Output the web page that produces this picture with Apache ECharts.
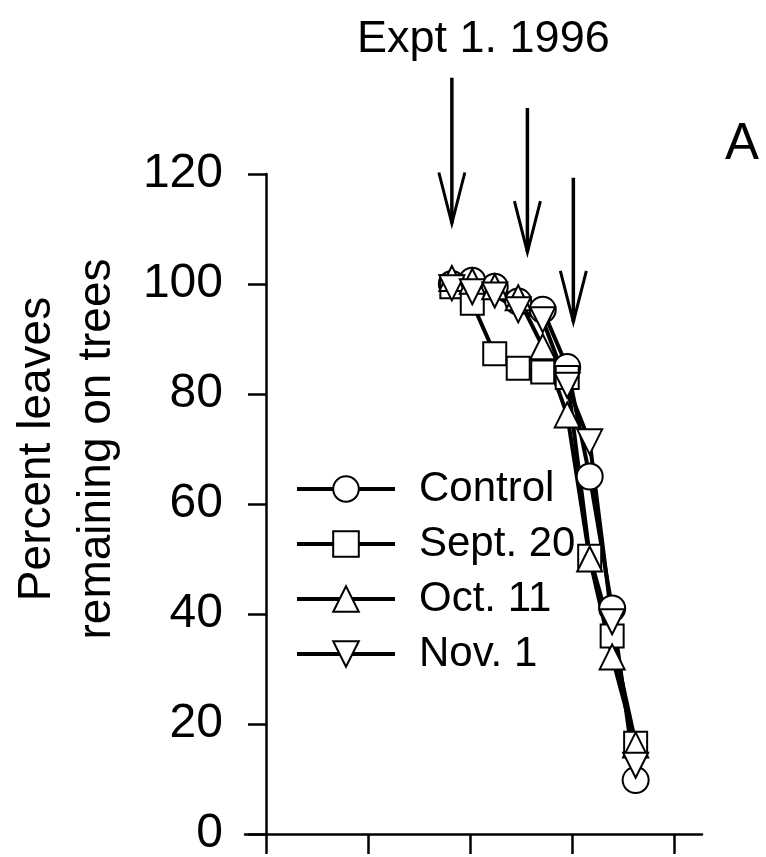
<!DOCTYPE html>
<html>
<head>
<meta charset="utf-8">
<script src="https://cdn.jsdelivr.net/npm/echarts@6/dist/echarts.min.js"></script>
<style>
  html, body { margin: 0; padding: 0; background: #fff; }
  #chart { width: 766px; height: 857px; }
</style>
</head>
<body>
<div id="chart"></div>
<script>
// sampling dates, in x-axis tick units (ticks are unlabelled)
var dates = [1.82, 2.02, 2.24, 2.47, 2.71, 2.95, 3.17, 3.39, 3.62];
var control = [100, 100.6, 99.5, 96.8, 95.3, 84.9, 65, 41, 9.8];
var sept20 = [99.5, 96.5, 87.3, 84.7, 84, 83, 50.5, 36, 16.5];
var oct11 = [101, 100.5, 99.5, 97.5, 88.6, 76.2, 50, 32.2, 16.2];
var nov1 = [99.3, 98.6, 98, 95.3, 93.5, 81.6, 71.3, 38.6, 12.5];
var yTicks = [0, 20, 40, 60, 80, 100, 120];
var xTicks = [0, 1, 2, 3, 4];
// treatment arrows: x, value at tail, value at tip
var arrowX = [1.82, 2.56, 3.01];
var arrowTail = [137.5, 132, 119.3];
var arrowTip = [111, 105.8, 93.1];

var font = "'Liberation Sans', Arial, sans-serif";
var chart = echarts.init(document.getElementById("chart"));

function pts(arr) {
  return dates.map(function (d, i) { return [d, arr[i]]; });
}

function mkSeries(name, arr, symbol, size, rotate) {
  return {
    name: name,
    type: "line",
    data: pts(arr),
    symbol: symbol,
    symbolSize: size,
    symbolRotate: rotate || 0,
    showAllSymbol: true,
    animation: false,
    lineStyle: { color: "#000", width: 4 },
    itemStyle: { color: "#fff", borderColor: "#000", borderWidth: 2 },
    emphasis: { disabled: true }
  };
}

var option = {
  backgroundColor: "#fff",
  animation: false,
  textStyle: { fontFamily: font },
  title: [
    { text: "Expt 1. 1996", left: 352, top: 12,
      textStyle: { fontFamily: font, fontSize: 45, fontWeight: "normal", color: "#000" } },
    { text: "A", left: 720, top: 114,
      textStyle: { fontFamily: font, fontSize: 51, fontWeight: "normal", color: "#000" } }
  ],
  grid: { left: 245, right: 64, top: 174, bottom: 23, containLabel: false, outerBoundsMode: "none" },
  legend: {
    orient: "vertical",
    left: 290,
    top: 463,
    itemWidth: 98,
    itemHeight: 32,
    itemGap: 13,
    data: ["Control", "Sept. 20", "Oct. 11", "Nov. 1"],
    lineStyle: { width: 4 },
    textStyle: { fontFamily: font, fontSize: 42, color: "#000", lineHeight: 42, padding: [0, 0, 0, 19] }
  },
  xAxis: {
    type: "value",
    min: -0.206,
    max: 4.27,
    axisLine: { show: true, onZero: true, lineStyle: { color: "#000", width: 2.5 } },
    axisTick: { show: true, customValues: xTicks, length: 20, lineStyle: { color: "#000", width: 2.5 } },
    axisLabel: { show: false },
    splitLine: { show: false }
  },
  yAxis: {
    type: "value",
    min: 0,
    max: 120,
    interval: 20,
    name: "Percent leaves\nremaining on trees",
    nameLocation: "middle",
    nameRotate: 90,
    nameGap: 118,
    nameTextStyle: { fontFamily: font, fontSize: 46, color: "#000", lineHeight: 60, padding: [0, 0, 0, 110] },
    axisLine: { show: true, onZero: true, lineStyle: { color: "#000", width: 2.5 } },
    axisTick: { show: true, length: 18, lineStyle: { color: "#000", width: 2.5 } },
    axisLabel: {
      margin: 22,
      fontFamily: font,
      fontSize: 48,
      color: "#000",
      formatter: function (v) { return yTicks.indexOf(v) >= 0 ? String(v) : ""; }
    },
    splitLine: { show: false }
  },
  series: [
    mkSeries("Control", control, "circle", 26),
    mkSeries("Sept. 20", sept20, "rect", 23),
    mkSeries("Oct. 11", oct11, "triangle", 25),
    mkSeries("Nov. 1", nov1, "triangle", 25, 180)
  ]
};

chart.setOption(option);

// arrows marking treatment dates
var arrows = [];
arrowX.forEach(function (x, i) {
  var tail = chart.convertToPixel({ gridIndex: 0 }, [x, arrowTail[i]]);
  var tip = chart.convertToPixel({ gridIndex: 0 }, [x, arrowTip[i]]);
  arrows.push({
    type: "line",
    shape: { x1: tail[0], y1: tail[1], x2: tip[0], y2: tip[1] },
    style: { stroke: "#000", lineWidth: 3.5 }
  });
  arrows.push({
    type: "polyline",
    shape: { points: [[tip[0] - 13, tip[1] - 51], [tip[0], tip[1]], [tip[0] + 13, tip[1] - 51]] },
    style: { stroke: "#000", lineWidth: 3, fill: null }
  });
});
chart.setOption({ graphic: arrows });
</script>
</body>
</html>
